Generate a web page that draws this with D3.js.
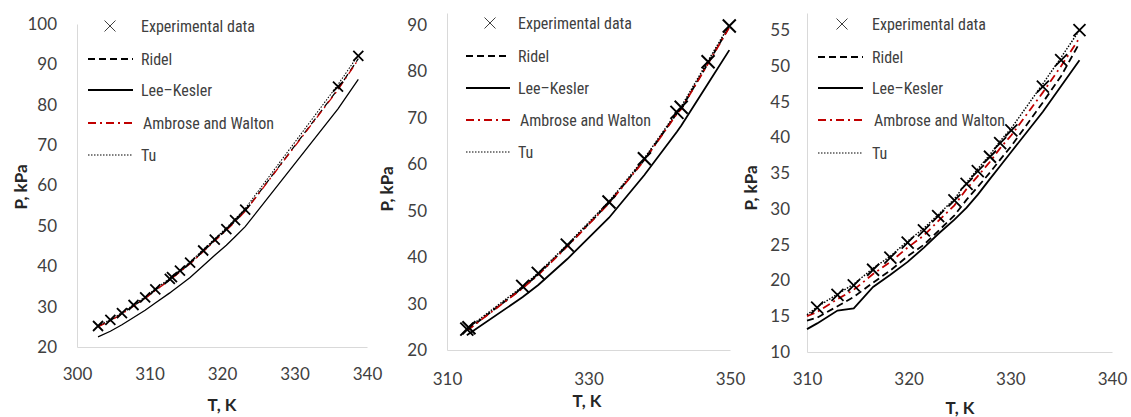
<!DOCTYPE html>
<html>
<head>
<meta charset="utf-8">
<script src="https://cdn.jsdelivr.net/npm/d3@7"></script>
<style>
  html, body { margin: 0; padding: 0; background: #ffffff; }
  svg { display: block; }
  .tick text { font-family: Lato, "Open Sans", sans-serif; font-size: 17px; fill: #404040; }
  .axis-title { font-family: Lato, "Open Sans", sans-serif; font-size: 17px; font-weight: bold; fill: #262626; }
  .legend-text { font-family: "Liberation Sans Narrow", "Roboto Condensed", "DejaVu Sans Condensed", sans-serif; font-size: 16px; fill: #404040; }
</style>
</head>
<body>
<svg id="chart" width="1131" height="417"></svg>
<script>
// Series names (legend order)
const seriesNames = ["Experimental data", "Ridel", "Lee\u2013Kesler", "Ambrose and Walton", "Tu"];

// ---- Panel 1 ----
const p1T          = [302.9, 304.6, 306.2, 307.8, 309.4, 310.8, 312.8, 313.1, 314.2, 315.6, 317.4, 319.0, 320.6, 321.8, 323.2, 336.0, 338.8];
const p1Exp        = [25.2, 26.7, 28.4, 30.4, 32.3, 34.3, 36.9, 37.3, 38.9, 40.9, 43.9, 46.6, 49.2, 51.4, 54.0, 84.5, 92.1];
const p1Ridel      = [25.1, 26.6, 28.3, 30.2, 32.1, 34.1, 36.7, 37.1, 38.7, 40.7, 43.7, 46.4, 49.0, 51.1, 53.7, 83.9, 91.4];
const p1LeeKesler  = [22.5, 23.9, 25.5, 27.3, 29.1, 30.9, 33.4, 33.8, 35.3, 37.2, 40.1, 42.7, 45.2, 47.3, 49.8, 79.0, 86.3];
const p1Ambrose    = [25.0, 26.5, 28.2, 30.1, 32.0, 34.0, 36.6, 37.0, 38.6, 40.6, 43.6, 46.3, 48.9, 51.0, 53.6, 83.7, 91.2];
const p1Tu         = [25.3, 26.8, 28.5, 30.5, 32.4, 34.4, 37.0, 37.4, 39.0, 41.1, 44.1, 46.8, 49.5, 51.7, 54.3, 85.0, 92.3];
const p1XTicks     = [300, 310, 320, 330, 340];
const p1YTicks     = [20, 30, 40, 50, 60, 70, 80, 90, 100];

// ---- Panel 2 ----
const p2T          = [312.8, 313.1, 320.7, 322.9, 327.0, 332.9, 337.9, 342.5, 343.1, 346.9, 349.9];
const p2Exp        = [24.5, 24.8, 33.7, 36.5, 42.6, 51.9, 61.2, 71.2, 72.3, 82.1, 89.8];
const p2Ridel      = [24.4, 24.6, 33.4, 36.3, 42.4, 51.7, 61.0, 71.0, 72.0, 81.8, 89.6];
const p2LeeKesler  = [23.2, 23.5, 31.4, 34.0, 39.6, 48.5, 57.7, 67.0, 68.3, 77.4, 84.6];
const p2Ambrose    = [24.3, 24.5, 33.3, 36.2, 42.3, 51.6, 60.9, 70.9, 71.9, 81.7, 89.5];
const p2Tu         = [24.6, 24.9, 33.7, 36.6, 42.7, 52.0, 61.3, 71.3, 72.4, 82.3, 90.0];
const p2XTicks     = [310, 330, 350];
const p2YTicks     = [20, 30, 40, 50, 60, 70, 80, 90];

// ---- Panel 3 ----
const p3ExpT       = [311.0, 313.0, 314.6, 316.5, 318.2, 319.9, 321.5, 322.9, 324.5, 325.7, 326.8, 328.0, 329.0, 330.1, 333.2, 335.0, 336.8];
const p3Exp        = [16.2, 18.0, 19.3, 21.5, 23.2, 25.3, 27.0, 29.0, 31.2, 33.5, 35.3, 37.3, 39.2, 41.0, 47.1, 50.8, 55.0];
const p3ModelT     = [310.0, 311.0, 313.0, 314.6, 316.5, 318.2, 319.9, 321.5, 322.9, 324.5, 325.7, 326.8, 328.0, 329.0, 330.1, 333.2, 335.0, 336.8];
const p3Ridel      = [14.4, 14.8, 16.4, 17.7, 19.7, 21.4, 23.4, 25.0, 26.9, 29.1, 31.3, 33.1, 35.1, 36.9, 38.8, 44.9, 48.6, 53.2];
const p3LeeKesler  = [13.2, 14.0, 15.8, 16.1, 19.1, 20.8, 22.6, 24.6, 26.5, 28.5, 30.2, 32.0, 34.2, 36.0, 38.0, 43.6, 47.2, 50.8];
const p3Ambrose    = [15.0, 15.6, 17.4, 18.7, 20.9, 22.6, 24.6, 26.3, 28.3, 30.5, 32.8, 34.6, 36.6, 38.5, 40.3, 46.3, 50.0, 53.9];
const p3Tu         = [15.2, 16.3, 18.1, 19.5, 21.7, 23.4, 25.5, 27.3, 29.2, 31.4, 33.7, 35.6, 37.6, 39.5, 41.3, 47.5, 51.2, 55.0];
const p3XTicks     = [310, 320, 330, 340];
const p3YTicks     = [10, 15, 20, 25, 30, 35, 40, 45, 50, 55];

const zip = (xs, ys) => xs.map((x, i) => [x, ys[i]]);

// Panel layout (pixel frames) and line styles
const panels = [
  {
    xDomain: [300, 340], xRange: [77, 367],
    yDomain: [20, 100], yRange: [347, 24],
    xTicks: p1XTicks, yTicks: p1YTicks,
    exp: zip(p1T, p1Exp),
    models: [zip(p1T, p1Ridel), zip(p1T, p1LeeKesler), zip(p1T, p1Ambrose), zip(p1T, p1Tu)],
    lineW: 1.3, markSize: 5, markW: 1.8,
    yPad: 20, xPad: 21,
    xTitle: { x: 222, y: 411 }, yTitle: { x: 27, y: 187 },
    legend: { mx: 110, tx: 141, lx0: 88, lx1: 133, ys: [26, 59, 90, 123, 155] }
  },
  {
    xDomain: [310, 350], xRange: [447, 730],
    yDomain: [20, 92.6], yRange: [350, 13],
    xTicks: p2XTicks, yTicks: p2YTicks,
    exp: zip(p2T, p2Exp),
    models: [zip(p2T, p2Ridel), zip(p2T, p2LeeKesler), zip(p2T, p2Ambrose), zip(p2T, p2Tu)],
    lineW: 1.8, markSize: 6.5, markW: 2,
    yPad: 20, xPad: 23,
    xTitle: { x: 587, y: 407 }, yTitle: { x: 393, y: 189 },
    legend: { mx: 490, tx: 518, lx0: 466, lx1: 510, ys: [23, 56, 88, 120, 152] }
  },
  {
    xDomain: [310, 340], xRange: [807, 1112],
    yDomain: [10, 57.4], yRange: [352, 13],
    xTicks: p3XTicks, yTicks: p3YTicks,
    exp: zip(p3ExpT, p3Exp),
    models: [zip(p3ModelT, p3Ridel), zip(p3ModelT, p3LeeKesler), zip(p3ModelT, p3Ambrose), zip(p3ModelT, p3Tu)],
    lineW: 1.8, markSize: 6, markW: 1.8,
    yPad: 17, xPad: 21,
    xTitle: { x: 960, y: 414 }, yTitle: { x: 757, y: 188 },
    legend: { mx: 842, tx: 872, lx0: 818, lx1: 863, ys: [24, 57, 88, 120, 153] }
  }
];

// Model line styles: Ridel, Lee–Kesler, Ambrose and Walton, Tu
const modelStyles = [
  { stroke: "#000000", dash: "7,4" },
  { stroke: "#000000", dash: null },
  { stroke: "#c00000", dash: "8,4,2,4" },
  { stroke: "#000000", dash: "1.5,1.5" }
];

const svg = d3.select("#chart");

function crossPath(s) {
  return `M${-s},${-s}L${s},${s}M${-s},${s}L${s},${-s}`;
}

panels.forEach(p => {
  const x = d3.scaleLinear().domain(p.xDomain).range(p.xRange);
  const y = d3.scaleLinear().domain(p.yDomain).range(p.yRange);
  const g = svg.append("g");

  // Y axis
  const yAxis = g.append("g")
    .attr("transform", `translate(${p.xRange[0]},0)`)
    .call(d3.axisLeft(y).tickValues(p.yTicks).tickSize(0).tickSizeOuter(0).tickPadding(p.yPad));
  yAxis.select(".domain").attr("stroke", "#d9d9d9").attr("stroke-width", 1);

  // X axis
  const xAxis = g.append("g")
    .attr("transform", `translate(0,${p.yRange[0]})`)
    .call(d3.axisBottom(x).tickValues(p.xTicks).tickSize(0).tickSizeOuter(0).tickPadding(p.xPad));
  xAxis.select(".domain").attr("stroke", "#d9d9d9").attr("stroke-width", 1);
  g.selectAll(".tick line").remove();

  // Axis titles
  g.append("text").attr("class", "axis-title")
    .attr("x", p.xTitle.x).attr("y", p.xTitle.y)
    .attr("text-anchor", "middle").text("T, K");
  g.append("text").attr("class", "axis-title")
    .attr("transform", `translate(${p.yTitle.x},${p.yTitle.y}) rotate(-90)`)
    .attr("text-anchor", "middle").text("P, kPa");

  // Model curves
  const line = d3.line().x(d => x(d[0])).y(d => y(d[1]));
  p.models.forEach((data, i) => {
    const st = modelStyles[i];
    g.append("path")
      .datum(data)
      .attr("d", line)
      .attr("fill", "none")
      .attr("stroke", st.stroke)
      .attr("stroke-width", i === 3 ? p.lineW * 0.8 : p.lineW)
      .attr("stroke-dasharray", st.dash);
  });

  // Experimental points
  g.append("g").selectAll("path")
    .data(p.exp)
    .join("path")
    .attr("transform", d => `translate(${x(d[0])},${y(d[1])})`)
    .attr("d", crossPath(p.markSize))
    .attr("fill", "none")
    .attr("stroke", "#000000")
    .attr("stroke-width", p.markW);

  // Legend
  const L = p.legend;
  const lg = g.append("g");
  lg.append("path")
    .attr("transform", `translate(${L.mx},${L.ys[0]})`)
    .attr("d", crossPath(5.5))
    .attr("fill", "none").attr("stroke", "#404040").attr("stroke-width", 1);
  modelStyles.forEach((st, i) => {
    lg.append("line")
      .attr("x1", L.lx0).attr("x2", L.lx1)
      .attr("y1", L.ys[i + 1]).attr("y2", L.ys[i + 1])
      .attr("stroke", st.stroke)
      .attr("stroke-width", i === 3 ? 1.2 : 1.8)
      .attr("stroke-dasharray", st.dash);
  });
  seriesNames.forEach((name, i) => {
    lg.append("text").attr("class", "legend-text")
      .attr("x", L.tx + (i === 3 ? 2 : 0)).attr("y", L.ys[i])
      .attr("dy", "0.35em")
      .text(name);
  });
});
</script>
</body>
</html>
